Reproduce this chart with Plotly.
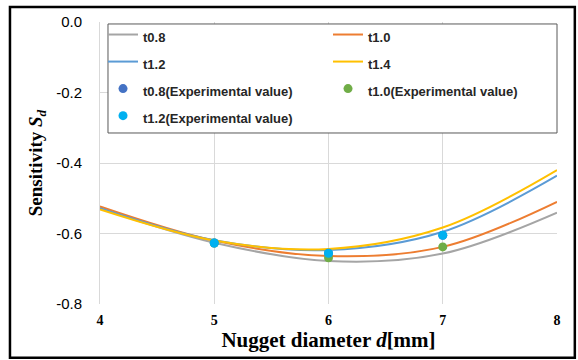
import plotly.graph_objects as go

d = [4, 5, 6, 7, 8]
t08 = [-0.528, -0.626, -0.678, -0.657, -0.541]
t10 = [-0.523, -0.620, -0.664, -0.638, -0.510]
t12 = [-0.528, -0.619, -0.647, -0.595, -0.436]
t14 = [-0.532, -0.620, -0.644, -0.583, -0.420]

exp_d = [5, 6, 7]
exp_t08 = [-0.627, -0.656, -0.605]
exp_t10 = [-0.627, -0.669, -0.638]
exp_t12 = [-0.627, -0.656, -0.605]

y_ticks = [-0.8, -0.6, -0.4, -0.2, 0.0]
y_ticktext = ["-0.8", "-0.6", "-0.4", "-0.2", "0.0"]
x_ticks = [4, 5, 6, 7, 8]

line_series = [("t0.8", t08, "#A5A5A5"), ("t1.0", t10, "#ED7D31"),
               ("t1.2", t12, "#5B9BD5"), ("t1.4", t14, "#FFC000")]
exp_series = [("t0.8(Experimental value)", exp_t08, "#4472C4"),
              ("t1.0(Experimental value)", exp_t10, "#70AD47"),
              ("t1.2(Experimental value)", exp_t12, "#00B0F0")]


def lg(name):
    return '<span style="font-size:13px">' + name + '</span>'


fig = go.Figure()
for name, ys, col in line_series:
    fig.add_trace(go.Scatter(x=d, y=ys, name=lg(name), mode="lines",
                             line=dict(color=col, width=2, shape="spline", smoothing=1.0)))
for name, ys, col in exp_series:
    fig.add_trace(go.Scatter(x=exp_d, y=ys, name=lg(name), mode="markers",
                             marker=dict(color=col, size=9)))

fig.update_layout(
    width=578, height=360,
    margin=dict(l=100, r=21, t=22, b=56),
    paper_bgcolor="white", plot_bgcolor="white",
    showlegend=True,
    legend=dict(orientation="h", x=0.0066, y=1.0213, xanchor="left", yanchor="top",
                entrywidth=180, entrywidthmode="pixels", itemwidth=30,
                bgcolor="rgba(0,0,0,0)", borderwidth=0,
                font=dict(family="Liberation Sans", size=18.5, color="#262626", weight="bold")),
    xaxis=dict(range=[4, 8], tickvals=x_ticks, showgrid=True, gridcolor="#D9D9D9",
               zeroline=False, showline=False, ticks="", ticklabelstandoff=6,
               tickfont=dict(family="Liberation Serif", size=14, color="black", weight="bold"),
               title=dict(text="Nugget diameter <i>d</i>[mm]", standoff=4,
                          font=dict(family="Liberation Serif", size=21, color="black", weight="bold"))),
    yaxis=dict(range=[-0.8, 0], tickvals=y_ticks, ticktext=y_ticktext,
               showgrid=True, gridcolor="#D9D9D9", zeroline=False, showline=True,
               linecolor="#D9D9D9", ticks="", ticklabelstandoff=14,
               tickfont=dict(family="Liberation Sans", size=15, color="black"),
               title=dict(text="Sensitivity <i>S<sub>d</sub></i>", standoff=8,
                          font=dict(family="Liberation Serif", size=19, color="black", weight="bold"))),
    shapes=[
        dict(type="rect", xref="paper", yref="paper",
             x0=-0.197, x1=1.039, y0=-0.191, y1=1.053,
             line=dict(color="black", width=2.5), layer="below"),
        dict(type="rect", xref="paper", yref="paper",
             x0=0.0175, x1=1.0, y0=0.6064, y1=0.993,
             fillcolor="white", line=dict(color="#595959", width=1), layer="above"),
    ],
)

fig.write_html("out.html", config={"displayModeBar": False},
               post_script="document.body.style.margin='0';")
